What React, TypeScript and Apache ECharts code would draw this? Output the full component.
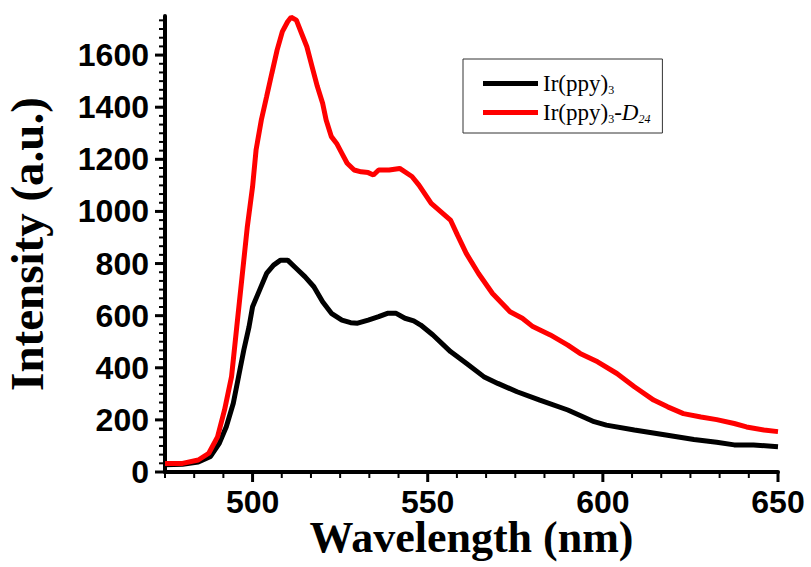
import React, { useEffect, useRef } from "react";
import * as echarts from "echarts";

const seriesNames = ["Ir(ppy)3", "Ir(ppy)3-D24"];

const wavelengthBlack = [475, 480, 484.5, 488, 490.5, 492.5, 494.5, 496, 497.5, 499, 500, 502, 504, 506, 508, 510, 512.5, 515, 517.5, 520, 522.5, 525.5, 528, 530, 533, 536, 538.5, 541, 543.5, 546, 548, 551.5, 556.5, 561, 566, 570, 575.5, 582, 590, 597.5, 601, 609, 618, 626, 632.5, 637.5, 643, 650];
const intensityBlack = [28, 30, 38, 60, 110, 174, 264, 366, 468, 558, 634, 698, 762, 794, 813, 813, 781, 749, 711, 653, 609, 583, 573, 571, 583, 596, 609, 609, 590, 580, 564, 526, 462, 417, 366, 340, 308, 276, 238, 193, 180, 161, 142, 125, 114, 104, 104, 97];

const wavelengthRed = [475, 480, 484.5, 487.5, 490, 492, 494, 495.5, 497, 498.5, 500, 501, 502.5, 504, 505.5, 507, 508.5, 510, 511, 512.5, 514, 515.5, 517, 518.5, 520, 521, 522.5, 524, 525.5, 527, 529, 531, 533, 534.5, 536, 539, 542, 545.5, 547.5, 551, 556.5, 558.5, 561, 564.5, 568.5, 573.5, 577, 580, 585, 590, 593.5, 598.5, 604, 609, 614.5, 618.5, 623, 628, 632.5, 637.5, 641, 646, 650];
const intensityRed = [33, 33, 46, 72, 135, 238, 366, 558, 749, 941, 1095, 1236, 1351, 1440, 1530, 1619, 1690, 1728, 1745, 1734, 1683, 1632, 1555, 1479, 1415, 1351, 1287, 1261, 1223, 1185, 1159, 1152, 1149, 1140, 1159, 1159, 1165, 1134, 1101, 1031, 967, 909, 839, 762, 685, 615, 590, 558, 526, 487, 455, 423, 378, 327, 276, 250, 224, 211, 201, 186, 173, 161, 155];

const xTicks = [500, 550, 600, 650];
const yTicks = [0, 200, 400, 600, 800, 1000, 1200, 1400, 1600];
const xMinorPerMajor = 6;
const yMinorPerMajor = 6;

const X_MIN = 475;
const X_MAX = 650;
const Y_MIN = 0;
const Y_MAX = 1750;

const SANS = "'Liberation Sans', Arial, sans-serif";
const SERIF = "'Liberation Serif', 'Times New Roman', serif";

function minorValues(majors: number[], perMajor: number, lo: number, hi: number) {
  const step = (majors[1] - majors[0]) / perMajor;
  const out: number[] = [];
  const start = majors[0] - Math.ceil((majors[0] - lo) / step) * step;
  for (let v = start; v <= hi + 1e-9; v += step) {
    const r = Math.round(v * 1000) / 1000;
    if (!majors.some((m) => Math.abs(m - r) < 1e-6)) out.push(r);
  }
  return out;
}

export default function App() {
  const ref = useRef<HTMLDivElement>(null);
  useEffect(() => {
    document.body.style.margin = "0";
    if (!ref.current) return;
    const chart = echarts.init(ref.current, null, { renderer: "svg" });
    const pairs = (xs: number[], ys: number[]) => xs.map((x, i) => [x, ys[i]]);
    const legendRich = {
      n: { fontSize: 23, lineHeight: 23, verticalAlign: "top", fontFamily: SERIF, color: "#000" },
      i: { fontSize: 23, lineHeight: 23, verticalAlign: "top", fontFamily: SERIF, fontStyle: "italic", color: "#000" },
      s: { fontSize: 12, lineHeight: 12, padding: [12, 0, 0, 0], verticalAlign: "top", fontFamily: SERIF, color: "#000" },
      si: { fontSize: 12, lineHeight: 12, padding: [12, 0, 0, 0], verticalAlign: "top", fontFamily: SERIF, fontStyle: "italic", color: "#000" },
    };

    const MAJOR_LEN = 8;
    const MINOR_LEN = 4;
    const xTickData = [
      ...xTicks.map((v) => [v, MAJOR_LEN]),
      ...minorValues(xTicks, xMinorPerMajor, X_MIN, X_MAX).map((v) => [v, MINOR_LEN]),
    ];
    const yTickData = [
      ...yTicks.map((v) => [v, MAJOR_LEN]),
      ...minorValues(yTicks, yMinorPerMajor, Y_MIN, Y_MAX).map((v) => [v, MINOR_LEN]),
    ];

    chart.setOption({
      animation: false,
      backgroundColor: "#fff",
      grid: { left: 165, right: 33, top: 16, bottom: 95, containLabel: false, outerBoundsMode: "none" },
      legend: {
        orient: "vertical",
        left: 463,
        top: 59,
        padding: [13, 12, 8, 20],
        itemGap: 5,
        itemWidth: 55,
        itemHeight: 5,
        icon: "rect",
        borderColor: "#333",
        borderWidth: 1,
        backgroundColor: "#fff",
        data: seriesNames,
        textStyle: { rich: legendRich, fontFamily: SERIF, fontSize: 23 },
        formatter: (name: string) =>
          name === seriesNames[0]
            ? "{n|Ir(ppy)}{s|3}"
            : "{n|Ir(ppy)}{s|3}{n|-}{i|D}{si|24}",
      },
      xAxis: {
        type: "value",
        min: X_MIN,
        max: X_MAX,
        minInterval: 50,
        maxInterval: 50,
        name: "Wavelength (nm)",
        nameLocation: "middle",
        nameGap: 45,
        nameMoveOverlap: false,
        nameTextStyle: { fontFamily: SERIF, fontWeight: "bold", fontSize: 44, lineHeight: 40, color: "#000" },
        axisLine: { show: true, onZero: false, lineStyle: { color: "#000", width: 4 } },
        axisTick: { show: false },
        minorTick: { show: false },
        splitLine: { show: false },
        axisLabel: {
          showMinLabel: false,
          margin: 16,
          lineHeight: 28,
          fontFamily: SANS,
          fontWeight: "bold",
          fontSize: 32,
          color: "#000",
          formatter: (v: number) => (xTicks.includes(v) ? String(v) : ""),
        },
      },
      yAxis: {
        type: "value",
        min: Y_MIN,
        max: Y_MAX,
        interval: 200,
        name: "Intensity (a.u.)",
        nameLocation: "middle",
        nameGap: 118,
        nameMoveOverlap: false,
        nameTextStyle: { fontFamily: SERIF, fontWeight: "bold", fontSize: 47, lineHeight: 40, color: "#000" },
        axisLine: { show: true, onZero: false, lineStyle: { color: "#000", width: 4 } },
        axisTick: { show: false },
        minorTick: { show: false },
        splitLine: { show: false },
        axisLabel: {
          showMaxLabel: false,
          margin: 16,
          fontFamily: SANS,
          fontWeight: "bold",
          fontSize: 32,
          color: "#000",
          formatter: (v: number) => (yTicks.includes(v) ? String(v) : ""),
        },
      },
      series: [
        {
          name: seriesNames[0],
          type: "line",
          data: pairs(wavelengthBlack, intensityBlack),
          showSymbol: false,
          symbol: "none",
          color: "#000",
          lineStyle: { color: "#000", width: 5 },
        },
        {
          name: seriesNames[1],
          type: "line",
          data: pairs(wavelengthRed, intensityRed),
          showSymbol: false,
          symbol: "none",
          color: "#ff0000",
          lineStyle: { color: "#ff0000", width: 5 },
        },
        {
          name: "xTicks",
          type: "custom",
          clip: false,
          silent: true,
          z: 5,
          data: xTickData,
          renderItem: (_params: any, api: any) => {
            const v = api.value(0);
            const len = api.value(1);
            const p = api.coord([v, Y_MIN]);
            return {
              type: "line",
              shape: { x1: p[0], y1: p[1], x2: p[0], y2: p[1] + 2 + len },
              style: { stroke: "#000", lineWidth: len >= MAJOR_LEN ? 3 : 2 },
            };
          },
        },
        {
          name: "yTicks",
          type: "custom",
          clip: false,
          silent: true,
          z: 5,
          data: yTickData,
          renderItem: (_params: any, api: any) => {
            const v = api.value(0);
            const len = api.value(1);
            const p = api.coord([X_MIN, v]);
            return {
              type: "line",
              shape: { x1: p[0], y1: p[1], x2: p[0] - 2 - len, y2: p[1] },
              style: { stroke: "#000", lineWidth: len >= MAJOR_LEN ? 3 : 2 },
            };
          },
        },
      ],
    });
    return () => chart.dispose();
  }, []);
  return <div ref={ref} style={{ width: 811, height: 567 }} />;
}
